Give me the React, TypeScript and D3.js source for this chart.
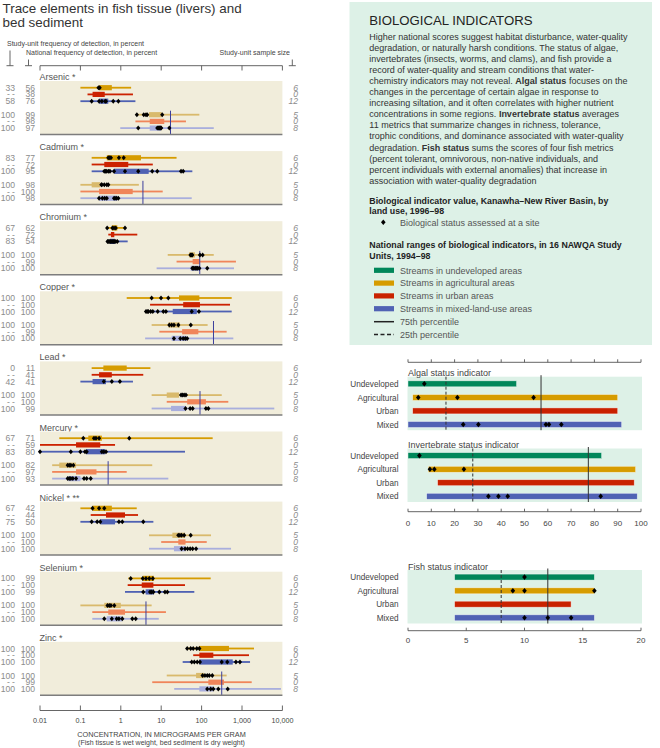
import React from "react";
import * as d3 from "d3";

// ---------------- LEFT CHART DATA ----------------
const elements = ["Arsenic *", "Cadmium *", "Chromium *", "Copper *", "Lead *", "Mercury *", "Nickel * **", "Selenium *", "Zinc *"];

// rows: fish-agricultural, fish-urban, fish-mixed, sediment-agricultural, sediment-urban, sediment-mixed
const studyFreq = [
  ["33", "- -", "58", "100", "- -", "100"],
  ["83", "- -", "100", "100", "- -", "100"],
  ["67", "- -", "83", "100", "- -", "100"],
  ["100", "- -", "100", "100", "- -", "100"],
  ["0", "- -", "42", "100", "- -", "100"],
  ["67", "- -", "83", "100", "- -", "100"],
  ["67", "- -", "75", "100", "- -", "100"],
  ["100", "- -", "100", "100", "- -", "100"],
  ["100", "- -", "100", "100", "- -", "100"],
];
const nationalFreq = [
  ["56", "38", "76", "99", "98", "97"],
  ["77", "72", "95", "98", "100", "98"],
  ["62", "72", "54", "100", "99", "100"],
  ["100", "100", "100", "100", "99", "100"],
  ["11", "41", "41", "100", "100", "99"],
  ["71", "59", "80", "82", "97", "93"],
  ["42", "44", "50", "100", "100", "100"],
  ["99", "100", "99", "100", "100", "100"],
  ["100", "100", "100", "100", "99", "100"],
];
const sampleSize = ["6", "0", "12", "5", "0", "8"];

// [minimum, 25th, 75th, maximum] national ranges, micrograms per gram
const ranges = [
  [[0.1, 0.29, 0.6, 1.8], [0.15, 0.2, 0.4, 2.0], [0.1, 0.29, 0.49, 2.3], [2.5, 5.0, 10.3, 88], [2.3, 5.2, 11.9, 41], [0.97, 5.2, 9.9, 200]],
  [[0.19, 0.45, 3.16, 24], [0.19, 0.39, 1.53, 6.2], [0.19, 0.68, 4.9, 59], [0.1, 0.19, 0.31, 2.8], [0.1, 0.29, 1.97, 10.9], [0.1, 0.29, 0.82, 57]],
  [[0.46, 0.6, 0.82, 1.27], [0.49, 0.57, 0.69, 2.56], [0.46, 0.54, 0.72, 1.48], [14.5, 48.7, 68.7, 200], [24, 60, 91, 708], [7.7, 53.7, 91, 634]],
  [[1.4, 27.6, 88, 556], [5.3, 35, 91, 505], [4.0, 19.3, 76, 556], [5.8, 15, 29, 141], [9.0, 33, 83, 417], [4.0, 18.2, 43, 610]],
  [[0.19, 0.37, 1.4, 5.4], [0.19, 0.29, 0.6, 3.6], [0.1, 0.2, 0.43, 2.0], [5.8, 13.7, 27.6, 315], [13.7, 44, 128, 458], [5.8, 17.5, 40, 6300]],
  [[0.03, 0.157, 0.34, 188], [0.01, 0.078, 0.31, 0.72], [0.01, 0.138, 0.41, 38.8], [0.02, 0.03, 0.078, 6.0], [0.02, 0.078, 0.25, 1.4], [0.02, 0.05, 0.1, 15]],
  [[0.1, 0.2, 0.6, 2.48], [0.18, 0.43, 1.27, 2.67], [0.1, 0.31, 0.72, 6.4], [5.0, 18.9, 39, 171], [10, 26.5, 40, 134], [5.0, 20.7, 40, 535]],
  [[1.53, 3.5, 6.6, 168], [1.48, 3.3, 6.4, 38.8], [1.27, 4.13, 6.6, 66], [0.1, 0.39, 1.0, 5.8], [0.197, 0.49, 1.27, 13.1], [0.197, 0.45, 1.09, 8.7]],
  [[44, 86, 476, 1980], [62, 88, 195, 1490], [34, 88, 590, 1580], [13.7, 73, 115, 417], [6.0, 147, 358, 1740], [21, 88, 195, 9200]],
];

// Study-unit site concentrations (Kanawha-New River Basin)
const sites = [
  [[0.28, 0.3], [], [0.19, 0.29, 0.34, 0.41, 0.43, 0.65, 0.87], [2.5, 3.7, 4.2, 4.5, 10.6], [], [2.7, 8.0, 8.5, 8.9, 9.3, 9.7, 10.0, 15.9]],
  [[0.49, 0.53, 0.57, 0.9, 1.18], [], [0.39, 0.42, 0.45, 0.5, 0.54, 0.68, 1.27, 2.7, 6.0, 8.0, 31, 35], [0.33, 0.34, 0.39, 0.45, 0.49], [], [0.29, 0.35, 0.4, 0.45, 0.68, 0.72, 0.79, 0.87]],
  [[0.46, 0.62, 0.68, 0.75, 1.27], [], [0.47, 0.49, 0.52, 0.55, 0.58, 0.62, 0.66, 0.69, 0.75, 0.82], [53, 56, 59, 91, 106], [], [59, 62, 65, 71, 76, 80, 88, 138]],
  [[5.8, 9.9, 15], [], [4.2, 4.5, 4.8, 5.5, 6.2, 8.2, 11.3, 13.1, 57, 86], [15.9, 18.2, 20.7, 26.5, 54], [], [20.7, 29.7, 35, 39.5, 44]],
  [[], [], [0.38, 0.6, 0.95], [31, 34, 37, 41], [], [40, 52, 60, 128, 147]],
  [[0.118, 0.217, 0.243, 0.29, 1.62], [], [0.01, 0.058, 0.1, 0.13, 0.143, 0.34, 0.38, 0.43], [0.0485, 0.053, 0.058, 0.067], [], [0.0485, 0.053, 0.058, 0.065, 0.078, 0.123, 0.143, 0.18]],
  [[0.2, 0.29, 0.39], [], [0.19, 0.26, 0.31, 0.9, 1.09, 3.6], [26.5, 29, 32, 37, 53.7], [], [32, 39, 45, 52, 60, 73]],
  [[1.76, 3.5, 4.2, 5.07, 6.2], [], [3.6, 5.3, 5.8, 6.4, 9.0, 12.4, 14.2], [0.47, 0.52, 0.57, 0.69], [], [0.39, 0.6, 0.79, 0.9, 1.09, 1.93, 2.34]],
  [[44, 53.7, 62, 76, 88], [], [57, 66, 78, 91, 315, 432, 708, 890], [106, 121, 138, 155, 184], [], [138, 168, 195, 259, 443]],
];

// Sediment-quality guideline for each element (null = none)
const guidelines = [17, 3.53, 90, 197, 91.3, 0.486, null, 4.2, 315];

const logTicks = [0.01, 0.1, 1, 10, 100, 1000, 10000];
const logTickLabels = ["0.01", "0.1", "1", "10", "100", "1,000", "10,000"];

// ---------------- RIGHT CHART DATA ----------------
const landUses = ["Undeveloped", "Agricultural", "Urban", "Mixed"];
const algalRanges = [[0, 46.6], [2, 90], [2, 90], [0, 91.7]];
const algalSites = [[7], [4.4, 21.2, 53.9], [], [23.7, 30.2, 59.2, 60.5, 65.8]];
const algalPct = [16.3, 57.1];
const invertRanges = [[0, 83.1], [8.7, 97.7], [12.7, 97.1], [8, 98.4]];
const invertSites = [[4.9], [9.4, 11.3, 24], [], [34.5, 38.8, 42.8, 82.7]];
const invertPct = [27.8, 77.4];
const fishRanges = [[4, 16], [4, 16], [4, 14], [4, 16]];
const fishSites = [[10], [9, 10, 16], [], [10, 12, 14]];
const fishPct = [8, 12];
const pctTicks = [0, 10, 20, 30, 40, 50, 60, 70, 80, 90, 100];
const fishTicks = [0, 5, 10, 15, 20];

const bodyLines = [
  "Higher national scores suggest habitat disturbance, water-quality",
  "degradation, or naturally harsh conditions. The status of algae,",
  "invertebrates (insects, worms, and clams), and fish provide a",
  "record of water-quality and stream conditions that water-",
  "chemistry indicators may not reveal. **Algal status** focuses on the",
  "changes in the percentage of certain algae in response to",
  "increasing siltation, and it often correlates with higher nutrient",
  "concentrations in some regions. **Invertebrate status** averages",
  "11 metrics that summarize changes in richness, tolerance,",
  "trophic conditions, and dominance associated with water-quality",
  "degradation. **Fish status** sums the scores of four fish metrics",
  "(percent tolerant, omnivorous, non-native individuals, and",
  "percent individuals with external anomalies) that increase in",
  "association with water-quality degradation",
];
const legendItems = ["Streams in undeveloped areas", "Streams in agricultural areas", "Streams in urban areas", "Streams in mixed-land-use areas"];

// ---------------- STYLE ----------------
const FONT = "'Liberation Sans', Arial, Helvetica, sans-serif";
const rowColors = ["#D69C00", "#CC2200", "#4F61B3", "#D9BA6C", "#F0855A", "#A9AEDD"];
const landColors = ["#00875A", "#D69C00", "#C92200", "#5062B4"];
const beige = "#F1EDDB";
const mint = "#DDF1E7";

const diamond = (cx: number, cy: number, w: number, h: number) =>
  `M${cx},${cy - h}L${cx + w},${cy}L${cx},${cy + h}L${cx - w},${cy}Z`;

function LeftChart() {
  const x = d3.scaleLog().domain([0.01, 10000]).range([40, 282.4]);
  const rowOffsets = [10.7, 17.4, 24.2, 37.7, 44.4, 51.1];
  const panelY = (i: number) => 77 + i * 70.1;
  return (
    <g>
      <text x={2.5} y={12.8} fontSize={13.4} fill="#333" fontFamily={FONT}>Trace elements in fish tissue (livers) and</text>
      <text x={2.5} y={27} fontSize={13.4} fill="#333" fontFamily={FONT}>bed sediment</text>
      <text x={7} y={45.5} fontSize={7} fill="#444" fontFamily={FONT}>Study-unit frequency of detection, in percent</text>
      <text x={26} y={55} fontSize={7} fill="#444" fontFamily={FONT}>National frequency of detection, in percent</text>
      <text x={290} y={55} fontSize={7} fill="#444" fontFamily={FONT} textAnchor="end">Study-unit sample size</text>
      {[[10, 50.5], [28.5, 59.5], [292.3, 59.5]].map(([bx, by], i) => (
        <g key={i} stroke="#555" strokeWidth={0.9}>
          <line x1={bx} x2={bx} y1={by} y2={65.7} />
          <line x1={bx - 3.5} x2={bx + 3.5} y1={65.7} y2={65.7} />
        </g>
      ))}
      {/* top axis */}
      <line x1={x(0.01)} x2={x(10000)} y1={65.7} y2={65.7} stroke="#555" strokeWidth={0.9} />
      {logTicks.map((t) => (
        <line key={t} x1={x(t)} x2={x(t)} y1={65.7} y2={70.5} stroke="#555" strokeWidth={0.9} />
      ))}
      {elements.map((el, i) => {
        const py = panelY(i);
        const bgTop = py + 4;
        const bgBot = py + 57.5;
        const g = guidelines[i];
        return (
          <g key={el}>
            <text x={39.5} y={py + 3} fontSize={9} fill="#555" fontFamily={FONT}>{el}</text>
            <rect x={x(0.01)} y={bgTop} width={x(10000) - x(0.01)} height={bgBot - bgTop} fill={beige} />
            {ranges[i].map((r, j) => {
              const ry = py + rowOffsets[j];
              return (
                <g key={j}>
                  <rect x={x(r[0])} y={ry - 0.9} width={x(r[3]) - x(r[0])} height={1.8} fill={rowColors[j]} />
                  <rect x={x(r[1])} y={ry - 2.6} width={x(r[2]) - x(r[1])} height={5.2} fill={rowColors[j]} />
                  <text x={15} y={ry + 3} fontSize={8.6} fill="#8c8c8c" fontFamily={FONT} textAnchor="end">{studyFreq[i][j]}</text>
                  <text x={35} y={ry + 3} fontSize={8.6} fill="#8c8c8c" fontFamily={FONT} textAnchor="end">{nationalFreq[i][j]}</text>
                  <text x={298} y={ry + 3} fontSize={8.6} fill="#8c8c8c" fontFamily={FONT} textAnchor="end" fontStyle="italic">{sampleSize[j]}</text>
                </g>
              );
            })}
            {g !== null && (
              <line x1={x(g)} x2={x(g)} y1={py + rowOffsets[3] - 4} y2={bgBot} stroke="#3C3F9C" strokeWidth={1} />
            )}
            {sites[i].map((row, j) =>
              row.map((v, k) => (
                <path key={`${j}-${k}`} d={diamond(x(v), py + rowOffsets[j], 2.1, 2.5)} fill="#000" />
              ))
            )}
            <line x1={x(0.01)} x2={x(10000)} y1={bgBot} y2={bgBot} stroke="#7d7d7d" strokeWidth={1.5} />
          </g>
        );
      })}
      {/* bottom axis */}
      <line x1={x(0.01)} x2={x(10000)} y1={710.5} y2={710.5} stroke="#555" strokeWidth={0.9} />
      {logTicks.map((t, i) => (
        <g key={t}>
          <line x1={x(t)} x2={x(t)} y1={705.5} y2={710.5} stroke="#555" strokeWidth={0.9} />
          <text x={x(t)} y={722.5} fontSize={7.2} fill="#444" fontFamily={FONT} textAnchor="middle">{logTickLabels[i]}</text>
        </g>
      ))}
      <text x={161.5} y={737} fontSize={7.3} fill="#444" fontFamily={FONT} textAnchor="middle">CONCENTRATION, IN MICROGRAMS PER GRAM</text>
      <text x={161.5} y={745.3} fontSize={7} fill="#444" fontFamily={FONT} textAnchor="middle">(Fish tissue is wet weight, bed sediment is dry weight)</text>
    </g>
  );
}

function renderLine(line: string) {
  const parts = line.split("**");
  return parts.map((p, i) => (
    <tspan key={i} fontWeight={i % 2 === 1 ? "bold" : "normal"}>{p}</tspan>
  ));
}

function IndicatorPanel(props: {
  title: string; bgTop: number; ranges: number[][]; sites: number[][]; pct: number[]; domainMax: number;
}) {
  const { title, bgTop, ranges: rr, sites: ss, pct, domainMax } = props;
  const x = d3.scaleLinear().domain([0, domainMax]).range([408, 641]);
  const rowOff = [7.1, 20.8, 34.2, 47.8];
  const bgBot = bgTop + 53.5;
  return (
    <g>
      <rect x={407.5} y={bgTop} width={234.5} height={bgBot - bgTop} fill={mint} />
      <text x={408} y={bgTop - 0.3} fontSize={9} fill="#444" fontFamily={FONT}>{title}</text>
      {rr.map((r, j) => (
        <g key={j}>
          <text x={398.5} y={bgTop + rowOff[j] + 3} fontSize={8.2} fill="#444" fontFamily={FONT} textAnchor="end">{landUses[j]}</text>
          <rect x={x(r[0])} y={bgTop + rowOff[j] - 3} width={x(r[1]) - x(r[0])} height={6} fill={landColors[j]} stroke="#fff" strokeOpacity={0.6} strokeWidth={0.7} />
        </g>
      ))}
      <line x1={x(pct[0])} x2={x(pct[0])} y1={bgTop} y2={bgBot} stroke="#333" strokeWidth={1} strokeDasharray="3,2" />
      <line x1={x(pct[1])} x2={x(pct[1])} y1={bgTop - 1.5} y2={bgBot} stroke="#333" strokeWidth={1} />
      {ss.map((row, j) =>
        row.map((v, k) => <path key={`${j}-${k}`} d={diamond(x(v), bgTop + rowOff[j], 2.3, 2.8)} fill="#000" />)
      )}
    </g>
  );
}

function RightChart() {
  const xp = d3.scaleLinear().domain([0, 100]).range([408, 641]);
  const xf = d3.scaleLinear().domain([0, 20]).range([408, 641]);
  return (
    <g fontFamily={FONT}>
      <rect x={349.5} y={2} width={302.5} height={343} fill={mint} />
      <text x={369.3} y={25} fontSize={13.2} fill="#222">BIOLOGICAL INDICATORS</text>
      {bodyLines.map((l, i) => (
        <text key={i} x={369.3} y={40 + i * 11.05} fontSize={9} fill="#333">{renderLine(l)}</text>
      ))}
      <text x={369.3} y={203.5} fontSize={8.8} fill="#222" fontWeight="bold">Biological indicator value, Kanawha–New River Basin, by</text>
      <text x={369.3} y={214} fontSize={8.8} fill="#222" fontWeight="bold">land use, 1996–98</text>
      <path d={diamond(383.3, 222.3, 2.3, 2.8)} fill="#000" />
      <text x={400} y={225.5} fontSize={9} fill="#555">Biological status assessed at a site</text>
      <text x={369.3} y={247.5} fontSize={8.8} fill="#222" fontWeight="bold">National ranges of biological indicators, in 16 NAWQA Study</text>
      <text x={369.3} y={258.5} fontSize={8.8} fill="#222" fontWeight="bold">Units, 1994–98</text>
      {legendItems.map((t, i) => (
        <g key={t}>
          <rect x={374} y={270.3 + i * 12.8 - 2.6} width={20} height={5.2} fill={landColors[i]} />
          <text x={400} y={270.3 + i * 12.8 + 3.2} fontSize={9} fill="#555">{t}</text>
        </g>
      ))}
      <line x1={374} x2={394} y1={321.7} y2={321.7} stroke="#222" strokeWidth={1.5} />
      <text x={400} y={324.9} fontSize={9} fill="#555">75th percentile</text>
      <line x1={374} x2={394} y1={334.5} y2={334.5} stroke="#222" strokeWidth={1.5} strokeDasharray="4,2.5" />
      <text x={400} y={337.7} fontSize={9} fill="#555">25th percentile</text>

      {/* algal top axis */}
      <line x1={xp(0)} x2={xp(100)} y1={362.3} y2={362.3} stroke="#555" strokeWidth={0.9} />
      {pctTicks.map((t) => <line key={t} x1={xp(t)} x2={xp(t)} y1={359.3} y2={362.3} stroke="#555" strokeWidth={0.9} />)}

      <IndicatorPanel title="Algal status indicator" bgTop={376.7} ranges={algalRanges} sites={algalSites} pct={algalPct} domainMax={100} />
      <IndicatorPanel title="Invertebrate status indicator" bgTop={448.5} ranges={invertRanges} sites={invertSites} pct={invertPct} domainMax={100} />

      <line x1={xp(0)} x2={xp(100)} y1={511.7} y2={511.7} stroke="#555" strokeWidth={0.9} />
      {pctTicks.map((t) => (
        <g key={t}>
          <line x1={xp(t)} x2={xp(t)} y1={508.7} y2={511.7} stroke="#555" strokeWidth={0.9} />
          <text x={xp(t)} y={526.3} fontSize={8} fill="#444" textAnchor="middle">{t}</text>
        </g>
      ))}

      <IndicatorPanel title="Fish status indicator" bgTop={570} ranges={fishRanges} sites={fishSites} pct={fishPct} domainMax={20} />
      <line x1={xf(0)} x2={xf(20)} y1={630.7} y2={630.7} stroke="#555" strokeWidth={0.9} />
      {fishTicks.map((t) => (
        <g key={t}>
          <line x1={xf(t)} x2={xf(t)} y1={627.7} y2={630.7} stroke="#555" strokeWidth={0.9} />
          <text x={xf(t)} y={643.3} fontSize={8} fill="#444" textAnchor="middle">{t}</text>
        </g>
      ))}
    </g>
  );
}

export default function App() {
  return (
    <svg width={660} height={748} style={{ position: "absolute", left: 0, top: 0, background: "#fff" }}>
      <rect x={0} y={0} width={660} height={748} fill="#fff" />
      <LeftChart />
      <RightChart />
    </svg>
  );
}
